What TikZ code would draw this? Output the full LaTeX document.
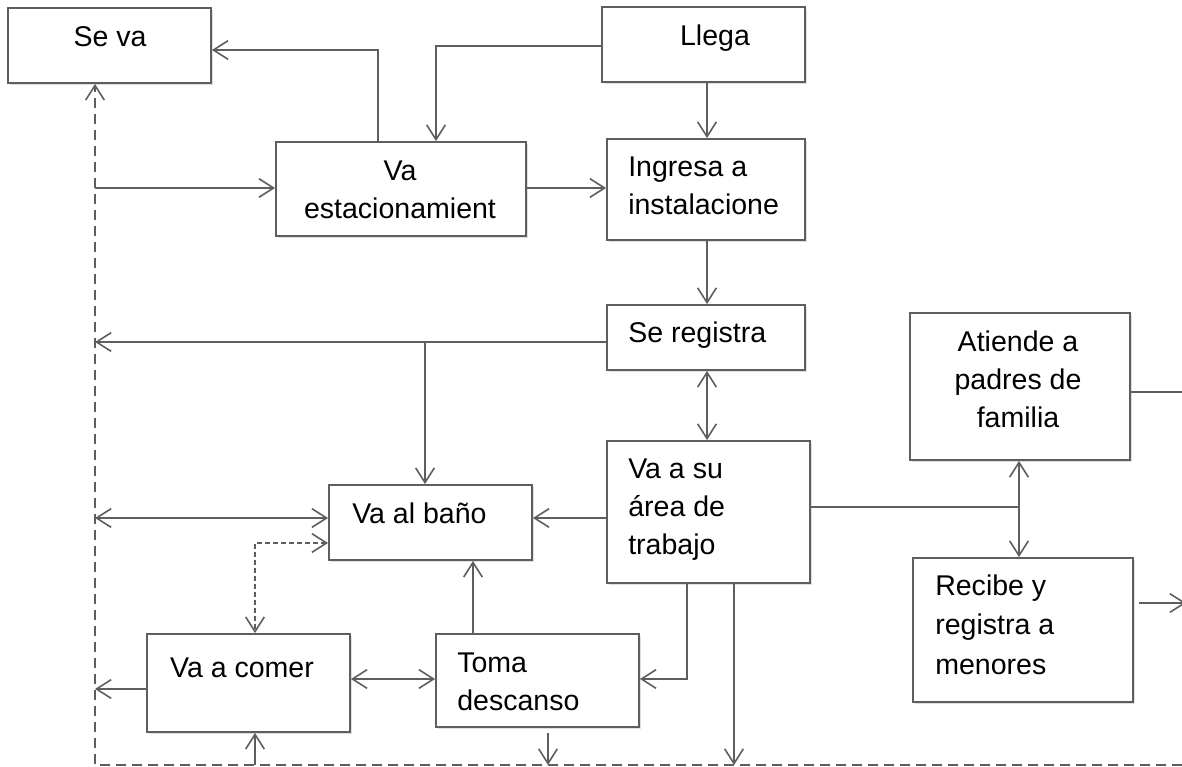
\documentclass[tikz,border=0pt]{standalone}
\usepackage{fontspec}
\setmainfont{Liberation Sans}
\usetikzlibrary{arrows.meta,shadows,calc}
\definecolor{ln}{HTML}{5E5E5E}
\newcommand\tstrut{\rule{0pt}{17pt}}
\tikzset{
  bx/.style 2 args={draw=ln, line width=1.4pt, fill=white, inner sep=0pt,
    minimum width=#1*0.75pt, minimum height=#2*0.75pt,
    drop shadow={shadow xshift=1.2pt, shadow yshift=-1.5pt, fill=black!25, opacity=0.5}},
  txt/.style={font=\fontsize{21.4}{28.5}\selectfont, inner sep=0pt, text=black},
  ln/.style={draw=ln, line width=1.2pt},
  tip/.tip={Straight Barb[length=11pt,width=14pt]},
  arr/.style={ln, -tip},
  arr2/.style={ln, tip-tip},
  dsh/.style={dash pattern=on 7.5pt off 4.5pt},
  sdsh/.style={dash pattern=on 3.75pt off 2.25pt},
}
\begin{document}
\begin{tikzpicture}[x=0.75pt,y=-0.75pt]
\useasboundingbox (0,0) rectangle (1182,767);

% boxes
\node[bx={203}{75}]  (seva)     at (109.5,45.5) {};
\node[bx={203}{75}]  (llega)    at (703.5,44.5) {};
\node[bx={250}{94}]  (vaest)    at (401,189) {};
\node[bx={198}{101}] (ingresa)  at (706,189.5) {};
\node[bx={198}{65}]  (registra) at (706,337.5) {};
\node[bx={203}{142}] (area)     at (708.5,512) {};
\node[bx={220}{147}] (atiende)  at (1020,386.5) {};
\node[bx={220}{144}] (recibe)   at (1023,630) {};
\node[bx={203}{75}]  (bano)     at (430.5,522.5) {};
\node[bx={203}{98}]  (comer)    at (248.5,683) {};
\node[bx={203}{93}]  (toma)     at (537.5,680.5) {};

% texts
\node[txt, anchor=north] (seva-t) at (110,23.33) {\tstrut Se va};
\node[txt, anchor=north] (llega-t) at (715,22.33) {\tstrut Llega};
\node[txt, anchor=north, align=center] (vaest-t) at (400,157.33) {\tstrut Va\\\tstrut estacionamient};
\node[txt, anchor=north west, align=left] (ingresa-t) at (628,153.33) {\tstrut Ingresa a\\\tstrut instalacione};
\node[txt, anchor=north west, align=left] (registra-t) at (628,319.33) {\tstrut Se registra};
\node[txt, anchor=north west, align=left] (area-t) at (628,455.33) {\tstrut Va a su\\\tstrut área de\\\tstrut trabajo};
\node[txt, anchor=north, align=center] (atiende-t) at (1018,328.33) {\tstrut Atiende a\\\tstrut padres de\\\tstrut familia};
\node[txt, anchor=north west, align=left, font=\fontsize{21.4}{29.6}\selectfont] (recibe-t) at (935,572.33) {\tstrut Recibe y\\\tstrut registra a\\\tstrut menores};
\node[txt, anchor=north west, align=left] (bano-t) at (352,500.33) {\tstrut Va al baño};
\node[txt, anchor=north] (comer-t) at (242,654.33) {\tstrut Va a comer};
\node[txt, anchor=north west, align=left] (toma-t) at (457,649.33) {\tstrut Toma\\\tstrut descanso};

% junction coordinates
\coordinate (bl) at (95,765);
\coordinate (br) at (1182,765);
\coordinate (d188) at (95,188);
\coordinate (d342) at (95,342);
\coordinate (j342) at (425,342);
\coordinate (d518) at (95,518);
\coordinate (d689) at (95,689);
\coordinate (j507) at (1019,507);

% dashed return line
\draw[arr, dsh] (br) -- (bl) -- (95,0 |- seva.south);

% connectors
\draw[arr] (378,0 |- vaest.north) -- (378,50) -- (seva.east |- 0,50);
\draw[arr] (llega.west |- 0,46) -- (436,46) -- (436,0 |- vaest.north);
\draw[arr] (707,0 |- llega.south) -- (707,0 |- ingresa.north);
\draw[arr] (vaest.east |- 0,188) -- (ingresa.west |- 0,188);
\draw[arr] (d188) -- (vaest.west |- d188);
\draw[arr] (707,0 |- ingresa.south) -- (707,0 |- registra.north);
\draw[arr] (registra.west |- d342) -- (d342);
\draw[arr] (j342) -- (j342 |- bano.north);
\draw[arr2] (707,0 |- registra.south) -- (707,0 |- area.north);
\draw[arr] (area.west |- d518) -- (bano.east |- d518);
\draw[arr2] (d518) -- (bano.west |- d518);
\draw[arr2, sdsh] (bano.west |- 0,543) -- (255,543) -- (255,0 |- comer.north);
\draw[arr] (473,0 |- toma.north) -- (473,0 |- bano.south);
\draw[arr2] (comer.east |- 0,679) -- (toma.west |- 0,679);
\draw[arr] (comer.west |- d689) -- (d689);
\draw[arr] (687,0 |- area.south) -- (687,679) -- (toma.east |- 0,679);
\draw[arr] (734,0 |- area.south) -- (734,0 |- bl);
\draw[arr, shorten <=4pt] (548,0 |- toma.south) -- (548,0 |- bl);
\draw[arr] (255,0 |- bl) -- (255,0 |- comer.south);
\draw[ln] (area.east |- j507) -- (j507);
\draw[arr] (j507) -- (j507 |- atiende.south);
\draw[arr] (j507) -- (j507 |- recibe.north);
\draw[ln] (atiende.east |- 0,392) -- (1182,392);
\draw[arr, shorten <=4pt] (recibe.east |- 0,603) -- (1186,603);
\end{tikzpicture}
\end{document}
